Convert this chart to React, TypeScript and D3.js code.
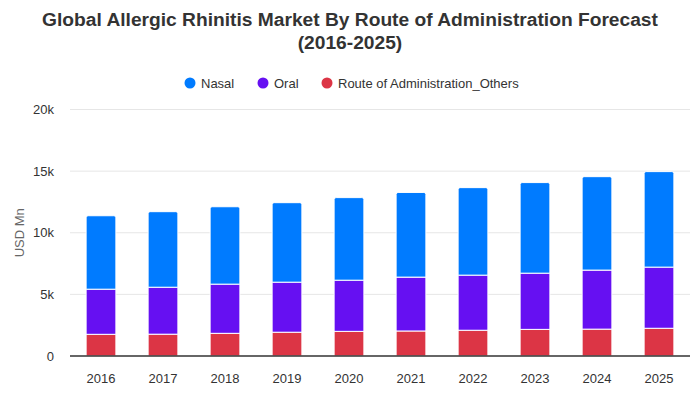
import React from "react";
import * as d3 from "d3";

const years = ["2016","2017","2018","2019","2020","2021","2022","2023","2024","2025"];
const others = [1760,1770,1840,1930,2000,2030,2090,2160,2180,2250];
const oral = [3660,3810,3990,4060,4150,4370,4470,4560,4790,4960];
const nasal = [5960,6130,6280,6450,6700,6870,7100,7350,7580,7750];
const seriesNames = ["Nasal","Oral","Route of Administration_Others"];
const colors = ["#007bff","#6610f2","#dc3545"];
const yTicks = [0,5000,10000,15000,20000];

const W = 700, H = 400;
const M = { left: 70, right: 690, top: 109.5, bottom: 356 };

export default function App() {
  const x = d3.scaleBand().domain(years).range([M.left, M.right]).paddingInner(0.52).paddingOuter(0.26);
  const y = d3.scaleLinear().domain([0, 20000]).range([M.bottom, M.top]);
  const rows = years.map((yr, i) => ({ year: yr, others: others[i], oral: oral[i], nasal: nasal[i] }));
  const stack = d3.stack<any>().keys(["others","oral","nasal"])(rows);
  const keyColor: Record<string,string> = { nasal: colors[0], oral: colors[1], others: colors[2] };
  const bw = x.bandwidth();
  const r = 2;
  const fmt = (v: number) => (v === 0 ? "0" : v / 1000 + "k");
  const legendX = [190, 263, 327];
  const font = "Liberation Sans, Arial, sans-serif";

  return (
    <svg width={W} height={H} style={{ position: "absolute", left: 0, top: 0 }} fontFamily={font}>
      <rect width={W} height={H} fill="#fff" />
      <text x={350} y={26} textAnchor="middle" fontSize={19.2} fontWeight="bold" fill="#333">
        Global Allergic Rhinitis Market By Route of Administration Forecast
      </text>
      <text x={350} y={49} textAnchor="middle" fontSize={19.2} fontWeight="bold" fill="#333">
        (2016-2025)
      </text>
      {seriesNames.map((n, i) => (
        <g key={n}>
          <circle cx={legendX[i]} cy={83} r={5.5} fill={colors[i]} />
          <text x={legendX[i] + 11} y={87.5} fontSize={13} fill="#333">{n}</text>
        </g>
      ))}
      {yTicks.map(t => (
        <g key={t}>
          {t !== 0 && <line x1={M.left} x2={M.right} y1={y(t)} y2={y(t)} stroke="#e6e6e6" strokeWidth={1} />}
          <text x={54} y={y(t) + 4.5} textAnchor="end" fontSize={13} fill="#333">{fmt(t)}</text>
        </g>
      ))}
      <text transform={`translate(24,${(M.top + M.bottom) / 2}) rotate(-90)`} textAnchor="middle" fontSize={13} fill="#666">USD Mn</text>
      {stack.map(layer => (
        <g key={layer.key}>
          {layer.map((d: any, i: number) => {
            const x0 = x(years[i])!;
            const y0 = y(d[1]);
            const y1 = y(d[0]);
            const h = y1 - y0;
            if (layer.key === "nasal") {
              const p = `M${x0},${y1} L${x0},${y0 + r} Q${x0},${y0} ${x0 + r},${y0} L${x0 + bw - r},${y0} Q${x0 + bw},${y0} ${x0 + bw},${y0 + r} L${x0 + bw},${y1} Z`;
              return <path key={i} d={p} fill={keyColor[layer.key]} stroke="#fff" strokeWidth={1} />;
            }
            return <rect key={i} x={x0} y={y0} width={bw} height={h} fill={keyColor[layer.key]} stroke="#fff" strokeWidth={1} />;
          })}
        </g>
      ))}
      <line x1={M.left} x2={M.right} y1={M.bottom} y2={M.bottom} stroke="#333" strokeWidth={1.5} />
      {years.map(yr => (
        <text key={yr} x={x(yr)! + bw / 2} y={383} textAnchor="middle" fontSize={13} fill="#333">{yr}</text>
      ))}
    </svg>
  );
}
